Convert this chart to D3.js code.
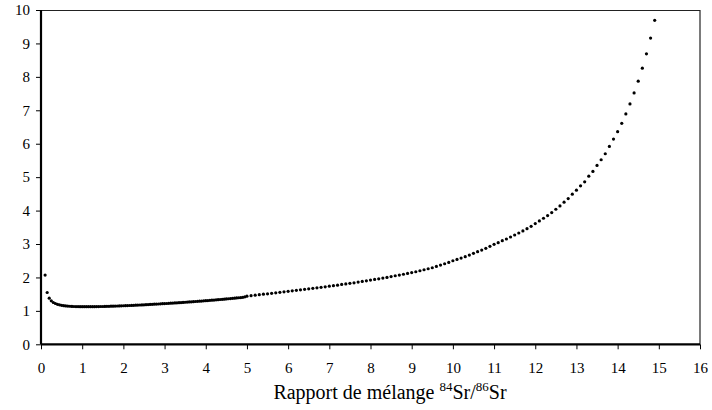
<!DOCTYPE html>
<html><head><meta charset="utf-8">
<script src="https://cdn.jsdelivr.net/npm/d3@7"></script>
<style>body{margin:0;background:#fff}svg{display:block}
svg text{font-family:"Liberation Serif","Times New Roman",serif;}</style>
</head><body>
<script>
// Mixing ratio 84Sr/86Sr (x) and plotted factor (y)
const ratio = [
0.10,0.15,0.20,0.25,0.30,0.35,0.40,0.45,0.50,0.55,0.60,0.65,0.70,0.75,0.80,0.85,0.90,0.95,
1.00,1.05,1.10,1.15,1.20,1.25,1.30,1.35,1.40,1.45,1.50,1.55,1.60,1.65,1.70,1.75,1.80,1.85,1.90,1.95,
2.00,2.05,2.10,2.15,2.20,2.25,2.30,2.35,2.40,2.45,2.50,2.55,2.60,2.65,2.70,2.75,2.80,2.85,2.90,2.95,
3.00,3.05,3.10,3.15,3.20,3.25,3.30,3.35,3.40,3.45,3.50,3.55,3.60,3.65,3.70,3.75,3.80,3.85,3.90,3.95,
4.00,4.05,4.10,4.15,4.20,4.25,4.30,4.35,4.40,4.45,4.50,4.55,4.60,4.65,4.70,4.75,4.80,4.85,4.90,4.95,
5.0,5.1,5.2,5.3,5.4,5.5,5.6,5.7,5.8,5.9,
6.0,6.1,6.2,6.3,6.4,6.5,6.6,6.7,6.8,6.9,
7.0,7.1,7.2,7.3,7.4,7.5,7.6,7.7,7.8,7.9,
8.0,8.1,8.2,8.3,8.4,8.5,8.6,8.7,8.8,8.9,
9.0,9.1,9.2,9.3,9.4,9.5,9.6,9.7,9.8,9.9,
10.0,10.1,10.2,10.3,10.4,10.5,10.6,10.7,10.8,10.9,
11.0,11.1,11.2,11.3,11.4,11.5,11.6,11.7,11.8,11.9,
12.0,12.1,12.2,12.3,12.4,12.5,12.6,12.7,12.8,12.9,
13.0,13.1,13.2,13.3,13.4,13.5,13.6,13.7,13.8,13.9,
14.0,14.1,14.2,14.3,14.4,14.5,14.6,14.7,14.8,14.9
];
const factor = [
2.07,1.55,1.38,1.30,1.25,1.22,1.195,1.18,1.165,1.155,1.148,1.142,1.138,1.134,1.131,1.129,1.127,1.126,
1.125,1.124,1.124,1.124,1.124,1.125,1.126,1.127,1.128,1.130,1.131,1.133,1.135,1.137,1.139,1.141,1.143,1.146,1.148,1.151,
1.153,1.156,1.159,1.161,1.164,1.167,1.170,1.173,1.176,1.179,1.182,1.186,1.189,1.192,1.196,1.199,1.203,1.206,1.210,1.214,
1.217,1.221,1.225,1.229,1.233,1.237,1.241,1.245,1.249,1.254,1.258,1.262,1.267,1.271,1.276,1.280,1.285,1.290,1.294,1.299,
1.304,1.309,1.314,1.319,1.324,1.330,1.335,1.340,1.346,1.351,1.357,1.362,1.368,1.374,1.380,1.386,1.392,1.398,1.405,1.420,
1.44,1.455,1.47,1.485,1.50,1.51,1.525,1.54,1.555,1.57,
1.585,1.60,1.615,1.63,1.645,1.66,1.675,1.69,1.705,1.72,
1.74,1.755,1.77,1.79,1.805,1.825,1.84,1.86,1.88,1.90,
1.92,1.94,1.96,1.98,2.00,2.025,2.05,2.07,2.095,2.12,
2.145,2.17,2.20,2.23,2.26,2.29,2.33,2.37,2.41,2.45,
2.50,2.54,2.58,2.62,2.67,2.72,2.77,2.82,2.87,2.93,
2.99,3.04,3.10,3.15,3.21,3.27,3.33,3.39,3.46,3.53,
3.61,3.69,3.77,3.85,3.94,4.04,4.14,4.25,4.36,4.49,
4.61,4.74,4.86,5.03,5.17,5.35,5.52,5.70,5.92,6.14,
6.36,6.61,6.89,7.19,7.52,7.87,8.26,8.69,9.16,9.69
];
const xTicks = [0,1,2,3,4,5,6,7,8,9,10,11,12,13,14,15,16];
const yTicks = [0,1,2,3,4,5,6,7,8,9,10];

const W = 712, H = 410;
const svg = d3.select("body").append("svg").attr("width", W).attr("height", H);
const x = d3.scaleLinear().domain([0,16]).range([41,700]);
const y = d3.scaleLinear().domain([0,10]).range([344.3,10]);

// frame (top & right thin)
svg.append("line").attr("x1",x(0)).attr("x2",x(16)).attr("y1",y(10)+0.5).attr("y2",y(10)+0.5)
  .attr("stroke","#222").attr("stroke-width",1);
svg.append("line").attr("x1",x(16)).attr("x2",x(16)).attr("y1",y(10)).attr("y2",y(0))
  .attr("stroke","#222").attr("stroke-width",1.2);

const gx = svg.append("g").attr("transform",`translate(0,${y(0)})`)
  .call(d3.axisBottom(x).tickValues(xTicks).tickSize(5).tickPadding(13).tickFormat(d3.format("d")));
const gy = svg.append("g").attr("transform",`translate(${x(0)},0)`)
  .call(d3.axisLeft(y).tickValues(yTicks).tickSize(5).tickPadding(6).tickFormat(d3.format("d")));
[gx, gy].forEach(g => {
  g.attr("font-family", null).attr("font-size", null);
  g.select(".domain").attr("stroke","#000").attr("stroke-width",2.2);
  g.selectAll(".tick line").attr("stroke","#000").attr("stroke-width",1);
  g.selectAll(".tick text").style("font-size","15px").attr("fill","#000");
});
gy.select(".domain").attr("d", `M0,${y(0)}V${y(10)}`);
gx.select(".domain").attr("d", `M${x(0)},0H${x(16)}`);

svg.append("g").selectAll("circle").data(ratio.map((r,i)=>[r,factor[i]])).join("circle")
  .attr("cx", d => x(d[0])).attr("cy", d => y(d[1])).attr("r", 1.6).attr("fill","#000");

const t = svg.append("text").attr("x", 390).attr("y", 399).attr("text-anchor","middle")
  .style("font-size","20px").attr("fill","#000");
t.append("tspan").text("Rapport de mélange ");
t.append("tspan").style("font-size","13px").attr("dy",-8).text("84");
t.append("tspan").attr("dy",8).text("Sr/");
t.append("tspan").style("font-size","13px").attr("dy",-8).text("86");
t.append("tspan").attr("dy",8).text("Sr");
</script>
</body></html>
